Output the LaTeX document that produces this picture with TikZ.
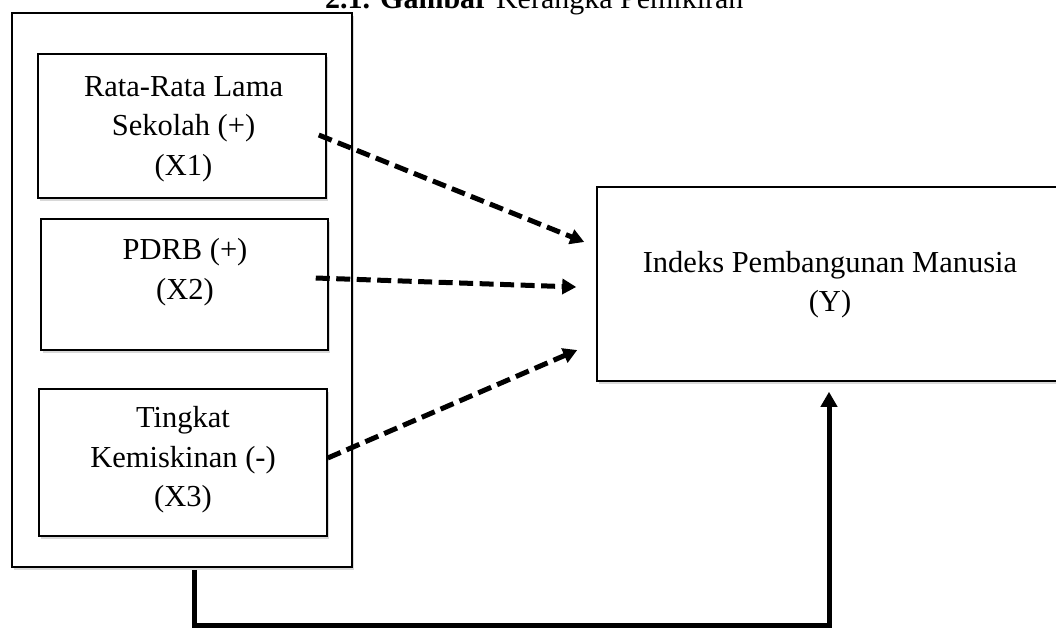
\documentclass[tikz,border=0pt]{standalone}
\usepackage{fontspec}
\setmainfont{Liberation Serif}
\usetikzlibrary{arrows.meta,shadows,calc}
\begin{document}
\begin{tikzpicture}[x=1pt,y=-1pt,
  box/.style={draw=black, line width=1.5pt, fill=white, inner sep=0pt,
    drop shadow={shadow xshift=1.5pt,shadow yshift=-2.5pt,opacity=0.3}},
  lbl/.style={font=\fontsize{30.5}{39.5}\selectfont, align=center, inner sep=0pt},
  dasharrow/.style={line width=5pt, dash pattern=on 14pt off 6.5pt, -{Triangle[width=15pt,length=14pt]}},
  solidarrow/.style={line width=5pt, -{Triangle[width=16pt,length=15pt]}}]
\useasboundingbox (0,0) rectangle (1056,627);
% title (top cut off, as in the reference)
\node[anchor=base west, font=\fontsize{30}{36}\selectfont, inner sep=0pt] (title) at (325,8) {\textbf{2.1. Gambar} Kerangka Pemikiran};
% boxes
\node[box, minimum width=340pt, minimum height=554pt] (outer) at (182,290) {};
\node[box, minimum width=288pt, minimum height=144pt] (b1) at (182,126) {};
\node[box, minimum width=287pt, minimum height=131pt] (b2) at (184.5,284.5) {};
\node[box, minimum width=288pt, minimum height=147pt] (b3) at (183,462.5) {};
\node[box, minimum width=466pt, minimum height=194pt] (y) at (830,284) {};
% texts
\node[lbl] (t1) at (183.5,129) {Rata-Rata Lama\\Sekolah (+)\\(X1)};
\node[lbl] (t2) at (185,272) {PDRB (+)\\(X2)};
\node[lbl] (t3) at (183,460) {Tingkat\\Kemiskinan (-)\\(X3)};
\node[lbl] (ty) at (830,284.5) {Indeks Pembangunan Manusia\\(Y)};
% arrow end points
\coordinate (s1) at ($(b1.east)+(-8,9)$);
\coordinate (e1) at ($(y.west)+(-12,-42)$);
\coordinate (s2) at ($(b2.east)+(-13,-6.5)$);
\coordinate (e2) at ($(y.west)+(-20,3)$);
\coordinate (s3) at ($(b3.east)+(0,-4.5)$);
\coordinate (e3) at ($(y.west)+(-19,66)$);
\draw[dasharrow] (s1) -- (e1);
\draw[dasharrow] (s2) -- (e2);
\draw[dasharrow] (s3) -- (e3);
% feedback connector
\coordinate (c0) at ($(outer.south)+(12,2)$);
\coordinate (cb) at (829,625);
\coordinate (c3) at ($(y.south)+(-1,10)$);
\draw[solidarrow] (c0) |- (cb) -- (c3);
\end{tikzpicture}
\end{document}
